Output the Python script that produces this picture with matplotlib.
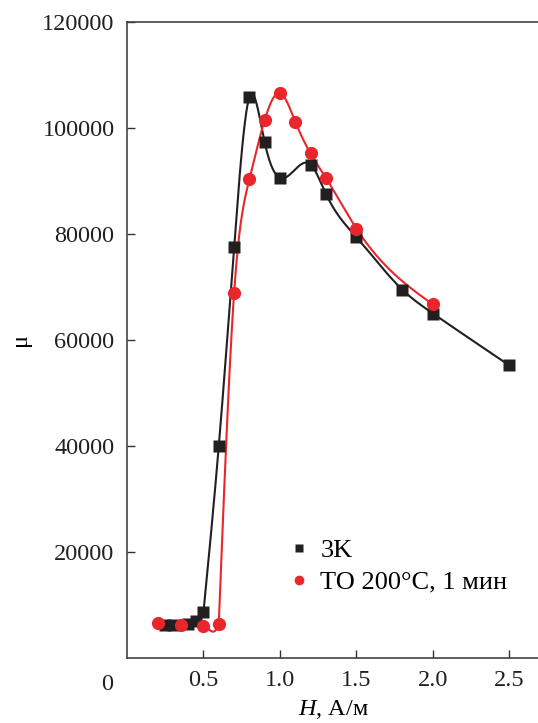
import numpy as np
import matplotlib.pyplot as plt
from matplotlib.lines import Line2D

plt.rcParams["font.family"] = ["Liberation Serif", "DejaVu Serif"]
plt.rcParams["mathtext.fontset"] = "custom"
plt.rcParams["mathtext.it"] = "Liberation Serif:italic"
plt.rcParams["mathtext.rm"] = "Liberation Serif"

# 3K (as-cast) data
h_3k = [0.25, 0.30, 0.40, 0.45, 0.50, 0.60, 0.70, 0.80, 0.90, 1.00, 1.20, 1.30, 1.50, 1.80, 2.00, 2.50]
mu_3k = [6200, 6300, 6400, 7000, 8700, 40000, 77500, 105800, 97300, 90600, 93100, 87600, 79400, 69500, 65000, 55200]

# annealed 200 C, 1 min
h_to = [0.20, 0.35, 0.50, 0.60, 0.70, 0.80, 0.90, 1.00, 1.10, 1.20, 1.30, 1.50, 2.00]
mu_to = [6600, 6200, 6000, 6500, 68800, 90300, 101500, 106600, 101200, 95200, 90600, 81000, 66700]

BLACK = "#231f20"
RED = "#e8262b"


def natural_spline(x, y, n=600):
    x = np.asarray(x, float)
    y = np.asarray(y, float)
    k = len(x)
    h = np.diff(x)
    A = np.zeros((k, k))
    b = np.zeros(k)
    A[0, 0] = A[-1, -1] = 1.0
    for i in range(1, k - 1):
        A[i, i - 1] = h[i - 1]
        A[i, i] = 2 * (h[i - 1] + h[i])
        A[i, i + 1] = h[i]
        b[i] = 6 * ((y[i + 1] - y[i]) / h[i] - (y[i] - y[i - 1]) / h[i - 1])
    M = np.linalg.solve(A, b)
    xs = np.linspace(x[0], x[-1], n)
    idx = np.clip(np.searchsorted(x, xs) - 1, 0, k - 2)
    x0, x1 = x[idx], x[idx + 1]
    hh = x1 - x0
    t0, t1 = x1 - xs, xs - x0
    ys = (M[idx] * t0 ** 3 + M[idx + 1] * t1 ** 3) / (6 * hh) \
        + (y[idx] / hh - M[idx] * hh / 6) * t0 \
        + (y[idx + 1] / hh - M[idx + 1] * hh / 6) * t1
    return xs, ys


def hook(x0, y0, x1, y1, m1, n=60):
    # short Hermite piece: flat start, steep end (the small dip before the rise)
    t = np.linspace(0, 1, n)
    h = x1 - x0
    ys = (2 * t ** 3 - 3 * t ** 2 + 1) * y0 + (-2 * t ** 3 + 3 * t ** 2) * y1 \
        + (t ** 3 - t ** 2) * h * m1
    return x0 + t * h, ys


fig = plt.figure(figsize=(5.38, 7.23), dpi=100)
ax = fig.add_axes([127 / 538, 1 - 658 / 723, (540 - 127) / 538, 636 / 723])

# curves start at H = 0.5
xs, ys = natural_spline(h_3k[4:], mu_3k[4:])
ax.plot(xs, ys, color=BLACK, lw=1.5, zorder=2)

xs, ys = natural_spline(h_to[3:], mu_to[3:])
steep = 0.15 * (mu_to[4] - mu_to[3]) / (h_to[4] - h_to[3])
hx, hy = hook(h_to[2], mu_to[2], h_to[3], mu_to[3], steep)
ax.plot(np.concatenate([hx, xs]), np.concatenate([hy, ys]), color=RED, lw=1.5, zorder=2)

ax.plot(h_3k, mu_3k, "s", color=BLACK, ms=8, mec="none", zorder=3)
ax.plot(h_to, mu_to, "o", color=RED, ms=9.5, mec="none", zorder=4)

ax.set_xlim(0, 2.7)
ax.set_ylim(0, 120000)
ax.set_xticks([0.5, 1.0, 1.5, 2.0, 2.5])
ax.set_xticklabels(["0.5", "1.0", "1.5", "2.0", "2.5"])
ax.set_yticks([20000, 40000, 60000, 80000, 100000, 120000])
ax.set_yticklabels(["20000", "40000", "60000", "80000", "100000", "120000"])
ax.tick_params(direction="in", length=6, width=1, labelsize=17.5, pad=9, colors="#333333",
               labelcolor="#231f20")
ax.spines["right"].set_visible(False)
for s in ["left", "bottom", "top"]:
    ax.spines[s].set_linewidth(1.2)
    ax.spines[s].set_color("#444444")

fig.text(107 / 538, 1 - 685 / 723, "0", fontsize=17.5, ha="center", va="center", color="#231f20")

ax.set_xlabel("$H$, А/м", fontsize=17.5, labelpad=5)
ax.set_ylabel("μ", fontsize=17.5, labelpad=8)

handles = [
    Line2D([], [], ls="none", marker="s", color=BLACK, ms=6, mec="none"),
    Line2D([], [], ls="none", marker="o", color=RED, ms=7, mec="none"),
]
ax.legend(handles, ["3K", "ТО 200°С, 1 мин"], loc="upper left",
          bbox_to_anchor=((290 - 127) / 413, 1 - (539 - 22) / 636),
          frameon=False, fontsize=19, handlelength=0.7, handletextpad=0.45,
          labelspacing=0.3, borderaxespad=0, borderpad=0)

fig.savefig("out.png", dpi=100)
